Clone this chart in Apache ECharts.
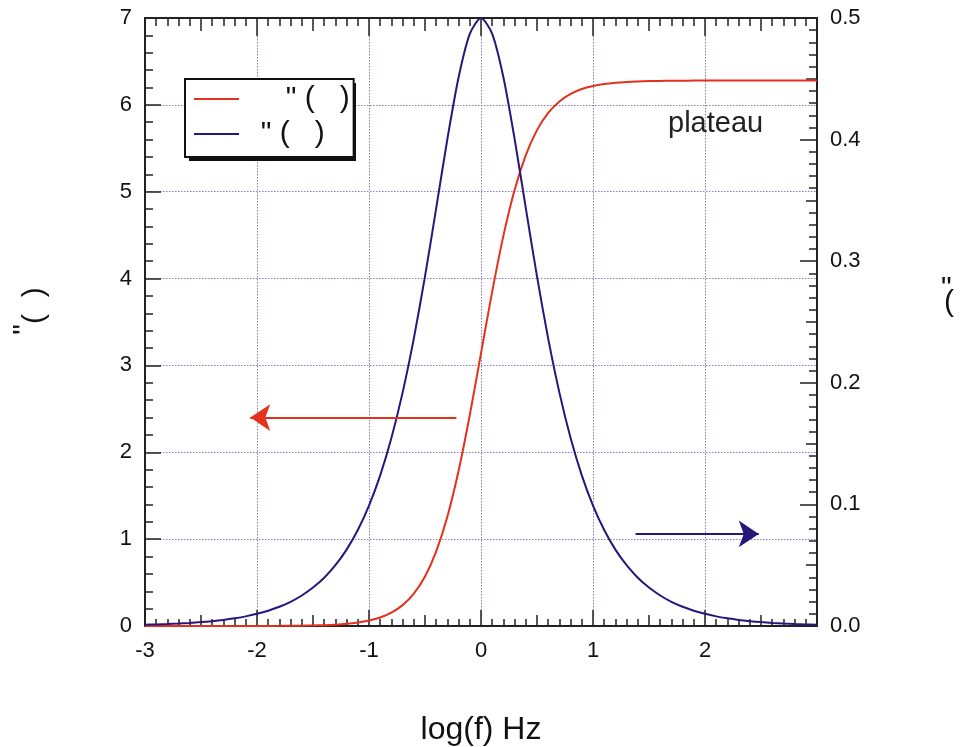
<!DOCTYPE html>
<html>
<head>
<meta charset="utf-8">
<script src="https://cdn.jsdelivr.net/npm/echarts@6/dist/echarts.min.js"></script>
<style>html,body{margin:0;padding:0;background:#fff;}#c{width:961px;height:747px;}</style>
</head>
<body>
<div id="c"></div>
<script>
// log(f) sample positions
const xs = [-3.0,-2.9,-2.8,-2.7,-2.6,-2.5,-2.4,-2.3,-2.2,-2.1,-2.0,-1.9,-1.8,-1.7,-1.6,-1.5,-1.4,-1.3,-1.2,-1.1,-1.0,-0.9,-0.8,-0.7,-0.6,-0.5,-0.4,-0.3,-0.2,-0.1,0.0,0.1,0.2,0.3,0.4,0.5,0.6,0.7,0.8,0.9,1.0,1.1,1.2,1.3,1.4,1.5,1.6,1.7,1.8,1.9,2.0,2.1,2.2,2.3,2.4,2.5,2.6,2.7,2.8,2.9,3.0];
// red curve (left axis)
const redVals = [0.0000,0.0000,0.0000,0.0000,0.0000,0.0001,0.0001,0.0002,0.0002,0.0004,0.0006,0.0010,0.0016,0.0025,0.0040,0.0063,0.0099,0.0157,0.0249,0.0394,0.0622,0.0980,0.1539,0.2404,0.3727,0.5709,0.8593,1.2609,1.7882,2.4296,3.1400,3.8504,4.4918,5.0191,5.4207,5.7091,5.9073,6.0396,6.1261,6.1820,6.2178,6.2406,6.2551,6.2643,6.2701,6.2737,6.2760,6.2775,6.2784,6.2790,6.2794,6.28,6.28,6.28,6.28,6.28,6.28,6.28,6.28,6.28,6.28];
// blue curve (right axis)
const blueVals = [0.0010,0.0013,0.0016,0.0020,0.0025,0.0032,0.0040,0.0050,0.0063,0.0079,0.0100,0.0126,0.0158,0.0199,0.0251,0.0316,0.0397,0.0500,0.0628,0.0789,0.0990,0.1239,0.1546,0.1919,0.2363,0.2875,0.3436,0.4006,0.4513,0.4870,0.5000,0.4870,0.4513,0.4006,0.3436,0.2875,0.2363,0.1919,0.1546,0.1239,0.0990,0.0789,0.0628,0.0500,0.0397,0.0316,0.0251,0.0199,0.0158,0.0126,0.0100,0.0079,0.0063,0.0050,0.0040,0.0032,0.0025,0.0020,0.0016,0.0013,0.0010];
// annotation arrows [start, end]
const redArrow = [[-0.22, 2.4], [-2.06, 2.4]];
const blueArrow = [[1.38, 0.0757], [2.48, 0.0757]];
const seriesNames = ['     " (   )', '  " (   )'];
const xLabelTitle = 'log(f) Hz';
const plateauText = 'plateau';

const FONT = '"Liberation Sans", Arial, Helvetica, sans-serif';
const RED = '#e4311e';
const BLUE = '#28177a';
const GRIDC = '#7f7fcc';
const AX = '#222';

const chart = echarts.init(document.getElementById('c'), null, {renderer: 'canvas'});

const xBase = {type: 'value', min: -3, max: 3, gridIndex: 0};
const option = {
  animation: false,
  backgroundColor: '#fff',
  textStyle: {fontFamily: FONT},
  grid: {left: 145, right: 144, top: 18, bottom: 121, containLabel: false, outerBoundsMode: 'none'},
  legend: {
    orient: 'vertical', left: 185, top: 79, icon: 'rect', z: 6,
    padding: [5, 4, 8, 9], itemGap: 5, itemWidth: 45, itemHeight: 2,
    backgroundColor: '#fff', borderColor: '#111', borderWidth: 2,
    textStyle: {fontFamily: FONT, fontSize: 30, lineHeight: 30, color: '#111'},
    data: seriesNames
  },
  xAxis: [
    Object.assign({}, xBase, {
      position: 'bottom', interval: 1,
      name: xLabelTitle, nameLocation: 'middle', nameGap: 88,
      nameTextStyle: {fontFamily: FONT, fontSize: 32, color: '#111'},
      axisLine: {show: true, onZero: false, lineStyle: {color: AX, width: 2}},
      axisTick: {show: true, inside: true, length: 16, lineStyle: {color: AX, width: 1.5}},
      minorTick: {show: true, splitNumber: 10, length: 7, lineStyle: {color: AX, width: 1.5}},
      axisLabel: {fontFamily: FONT, fontSize: 22, color: '#111', margin: 14, showMaxLabel: false},
      splitLine: {show: true, lineStyle: {color: GRIDC, type: [1.5, 1.5], width: 1}}
    }),
    Object.assign({}, xBase, {
      position: 'bottom', interval: 0.5,
      axisLine: {show: false, onZero: false},
      axisTick: {show: true, inside: true, length: 11, lineStyle: {color: AX, width: 1.5}},
      axisLabel: {show: false}, splitLine: {show: false}
    }),
    Object.assign({}, xBase, {
      position: 'top', interval: 1,
      axisLine: {show: true, onZero: false, lineStyle: {color: AX, width: 2}},
      axisTick: {show: true, inside: true, length: 18, lineStyle: {color: AX, width: 1.5}},
      minorTick: {show: true, splitNumber: 10, length: 8, lineStyle: {color: AX, width: 1.5}},
      axisLabel: {show: false}, splitLine: {show: false}
    }),
    Object.assign({}, xBase, {
      position: 'top', interval: 0.5,
      axisLine: {show: false, onZero: false},
      axisTick: {show: true, inside: true, length: 13, lineStyle: {color: AX, width: 1.5}},
      axisLabel: {show: false}, splitLine: {show: false}
    })
  ],
  yAxis: [
    {
      type: 'value', position: 'left', min: 0, max: 7, interval: 1,
      axisLine: {show: true, onZero: false, lineStyle: {color: AX, width: 2}},
      axisTick: {show: true, inside: true, length: 16, lineStyle: {color: AX, width: 1.5}},
      minorTick: {show: true, splitNumber: 5, length: 8, lineStyle: {color: AX, width: 1.5}},
      axisLabel: {fontFamily: FONT, fontSize: 22, color: '#111', margin: 13},
      splitLine: {show: true, lineStyle: {color: GRIDC, type: [1.5, 1.5], width: 1}}
    },
    {
      type: 'value', position: 'right', min: 0, max: 0.5, interval: 0.1,
      axisLine: {show: true, onZero: false, lineStyle: {color: AX, width: 2}},
      axisTick: {show: true, inside: true, length: 17, lineStyle: {color: AX, width: 1.5}},
      minorTick: {show: true, splitNumber: 10, length: 8, lineStyle: {color: AX, width: 1.5}},
      axisLabel: {fontFamily: FONT, fontSize: 22, color: '#111', margin: 13, formatter: v => v.toFixed(1)},
      splitLine: {show: false}
    },
    {
      type: 'value', position: 'right', min: 0, max: 0.5, interval: 0.05,
      axisLine: {show: false, onZero: false},
      axisTick: {show: true, inside: true, length: 11, lineStyle: {color: AX, width: 1.5}},
      axisLabel: {show: false}, splitLine: {show: false}
    }
  ],
  series: [
    {
      name: seriesNames[0], type: 'line', xAxisIndex: 0, yAxisIndex: 0,
      data: xs.map((x, i) => [x, redVals[i]]),
      symbol: 'none', smooth: 0.25,
      lineStyle: {color: RED, width: 2}, itemStyle: {color: RED},
      markLine: {
        silent: true, symbol: ['none', 'arrow'], symbolSize: 20,
        label: {show: false}, lineStyle: {color: RED, width: 2, type: 'solid'},
        data: [[{coord: redArrow[0]}, {coord: redArrow[1]}]]
      },
      z: 3
    },
    {
      name: seriesNames[1], type: 'line', xAxisIndex: 0, yAxisIndex: 1,
      data: xs.map((x, i) => [x, blueVals[i]]),
      symbol: 'none', smooth: 0.25,
      lineStyle: {color: BLUE, width: 2}, itemStyle: {color: BLUE},
      markLine: {
        silent: true, symbol: ['none', 'arrow'], symbolSize: 20,
        label: {show: false}, lineStyle: {color: BLUE, width: 2, type: 'solid'},
        data: [[{coord: blueArrow[0]}, {coord: blueArrow[1]}]]
      },
      z: 4
    }
  ],
  graphic: [
    {
      type: 'rect', z: 5, silent: true,
      shape: {x: 189, y: 83, width: 167, height: 78},
      style: {fill: '#111'}
    },
    {
      type: 'text', left: 668, top: 109, z: 10,
      style: {text: plateauText, font: '29px ' + FONT, fill: '#222'}
    },
    {
      type: 'text', x: 30, y: 311, rotation: Math.PI / 2, z: 10,
      style: {
        text: '{s|"}{p|(  )}', align: 'center', verticalAlign: 'middle',
        fill: '#111', font: '30px ' + FONT,
        rich: {
          s: {fontSize: 30, fontFamily: FONT, lineHeight: 40, verticalAlign: 'top', fill: '#111'},
          p: {fontSize: 30, fontFamily: FONT, lineHeight: 30, verticalAlign: 'bottom', fill: '#111'}
        }
      }
    },
    {
      type: 'text', x: 941, y: 274, z: 10,
      style: {text: '"', font: '30px ' + FONT, fill: '#111', align: 'left', verticalAlign: 'top'}
    },
    {
      type: 'text', x: 944, y: 288, z: 10,
      style: {text: '(', font: '30px ' + FONT, fill: '#111', align: 'left', verticalAlign: 'top'}
    }
  ]
};
chart.setOption(option);
</script>
</body>
</html>
